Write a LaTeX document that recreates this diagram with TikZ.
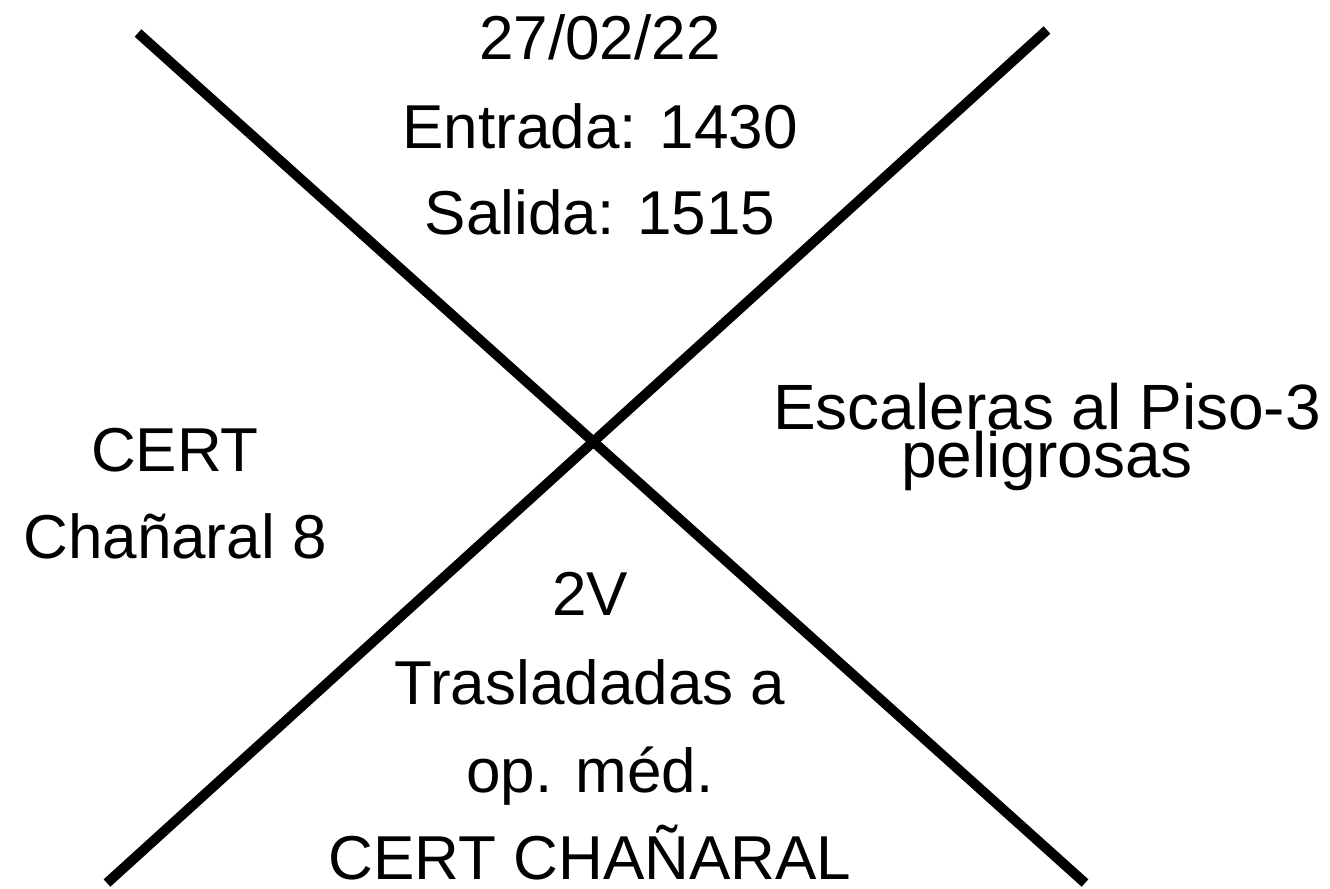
\documentclass[tikz,border=0pt]{standalone}
\usepackage{fontspec}
\setmainfont{Liberation Sans}
\usetikzlibrary{arrows}

\begin{document}
\begin{tikzpicture}[line cap=butt, line join=round, x=0.5pt, y=-0.5pt, every node/.style={anchor=base, inner sep=0pt, font=\fontsize{31}{37}\selectfont}]
    \useasboundingbox (0,0) rectangle (1330,889);
    \coordinate (a0) at (138,33);
    \coordinate (a1) at (1085,883);
    \coordinate (b0) at (1047,30);
    \coordinate (b1) at (107,883);
    \draw[line width=5pt] (a0) -- (a1);
    \draw[line width=5pt] (b0) -- (b1);
    \draw(600,59) node (t0) {27/02/22};
    \draw(600,148) node (t1) {Entrada: 1430};
    \draw(600,234) node (t2) {Salida: 1515};
    \draw(175,471) node (l0) {CERT};
    \draw(175,558) node (l1) {Cha\~naral 8};
    \draw(1047,429) node[font=\fontsize{32}{38}\selectfont] (r0) {Escaleras al Piso-3};
    \draw(1047,477) node[font=\fontsize{32}{38}\selectfont] (r1) {peligrosas};
    \draw(590,615) node (b0t) {2V};
    \draw(590,704) node (b1t) {Trasladadas a};
    \draw(590,792) node (b2t) {op. méd.};
    \draw(590,879) node (b3t) {CERT CHAÑARAL};
\end{tikzpicture}
\end{document}
